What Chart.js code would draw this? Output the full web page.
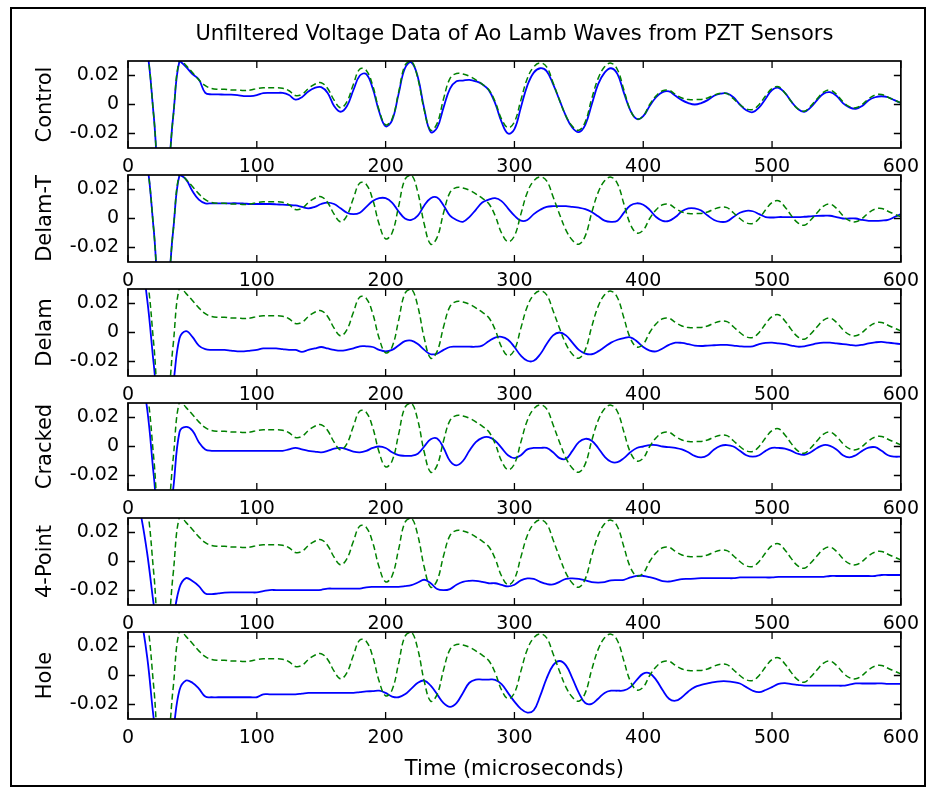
<!DOCTYPE html>
<html>
<head>
<meta charset="utf-8">
<title>Unfiltered Voltage Data of Ao Lamb Waves from PZT Sensors</title>
<script src="https://cdn.jsdelivr.net/npm/chart.js@4.4.1/dist/chart.umd.min.js"></script>
<style>
  html, body { margin: 0; padding: 0; background: #fff; }
  body { width: 927px; height: 788px; position: relative; overflow: hidden; }
  #frame { position: absolute; left: 10px; top: 7px; width: 916px; height: 780px; box-sizing: border-box; border: 2px solid #000; }
  canvas { position: absolute; left: 0; }
</style>
</head>
<body>
<div id="frame"></div>
<script>
// time axis (microseconds), sampled every 5 us
const timeUs = [
  0, 5, 10, 15, 20, 25, 30, 35, 40, 45,
  50, 55, 60, 65, 70, 75, 80, 85, 90, 95,
  100, 105, 110, 115, 120, 125, 130, 135, 140, 145,
  150, 155, 160, 165, 170, 175, 180, 185, 190, 195,
  200, 205, 210, 215, 220, 225, 230, 235, 240, 245,
  250, 255, 260, 265, 270, 275, 280, 285, 290, 295,
  300, 305, 310, 315, 320, 325, 330, 335, 340, 345,
  350, 355, 360, 365, 370, 375, 380, 385, 390, 395,
  400, 405, 410, 415, 420, 425, 430, 435, 440, 445,
  450, 455, 460, 465, 470, 475, 480, 485, 490, 495,
  500, 505, 510, 515, 520, 525, 530, 535, 540, 545,
  550, 555, 560, 565, 570, 575, 580, 585, 590, 595,
  600
];

const sensorNames = ['Control', 'Delam-T', 'Delam', 'Cracked', '4-Point', 'Hole'];

const xTickValues = [0, 100, 200, 300, 400, 500, 600];
const xTickLabels = ['0', '100', '200', '300', '400', '500', '600'];
const yTickValues = [-0.02, 0, 0.02];
const yTickLabels = ['-0.02', '0', '0.02'];

// green dashed reference trace (same in every panel)
const referenceVolts = [
  0.06, 0.06, 0.055, 0.037, -0.008, -0.055, -0.05, -0.009, 0.031, 0.027,
  0.022, 0.017, 0.013, 0.011, 0.0105, 0.0105, 0.010, 0.010, 0.0097, 0.010,
  0.011, 0.0115, 0.0115, 0.0115, 0.0112, 0.0095, 0.0062, 0.007, 0.011, 0.014,
  0.015, 0.011, 0.003, -0.0023, 0.002, 0.014, 0.0245, 0.0235, 0.013, -0.004,
  -0.014, -0.010, 0.008, 0.027, 0.030, 0.018, -0.004, -0.0177, -0.013, 0.004,
  0.018, 0.0214, 0.021, 0.0195, 0.017, 0.014, 0.0103, 0.002, -0.010, -0.016,
  -0.012, 0.003, 0.018, 0.026, 0.0287, 0.026, 0.015, 0.003, -0.008, -0.015,
  -0.0177, -0.012, 0.004, 0.018, 0.026, 0.0285, 0.024, 0.010, -0.004, -0.0099,
  -0.008, 0.0, 0.006, 0.0095, 0.0098, 0.007, 0.0045, 0.0034, 0.0034, 0.0035,
  0.0045, 0.0065, 0.0078, 0.0075, 0.004, 0.0, -0.003, -0.0034, 0.0, 0.006,
  0.011, 0.0122, 0.008, 0.002, -0.003, -0.0046, -0.001, 0.004, 0.0085, 0.0099,
  0.007, 0.002, -0.0015, -0.0023, 0.0, 0.004, 0.0065, 0.0069, 0.005, 0.003,
  0.0011
];

const controlVolts = [
  0.06, 0.06, 0.055, 0.037, -0.008, -0.055, -0.05, -0.009, 0.030, 0.026,
  0.021, 0.0172, 0.008, 0.007, 0.007, 0.0068, 0.0068, 0.0065, 0.0058, 0.0058,
  0.0065, 0.0078, 0.008, 0.008, 0.008, 0.0065, 0.0034, 0.005, 0.009, 0.0115,
  0.012, 0.008, -0.001, -0.005, -0.001, 0.010, 0.020, 0.021, 0.011, -0.005,
  -0.015, -0.011, 0.007, 0.025, 0.029, 0.019, -0.003, -0.019, -0.016, -0.002,
  0.011, 0.016, 0.0165, 0.017, 0.016, 0.014, 0.010, 0.001, -0.012, -0.020,
  -0.017, -0.002, 0.013, 0.022, 0.025, 0.023, 0.014, 0.003, -0.008, -0.016,
  -0.019, -0.014, 0.0, 0.014, 0.022, 0.025, 0.021, 0.008, -0.004, -0.010,
  -0.008, -0.001, 0.005, 0.0085, 0.009, 0.006, 0.003, 0.001, 0.0, 0.001,
  0.003, 0.006, 0.0075, 0.0076, 0.005, 0.0, -0.004, -0.0053, -0.002, 0.004,
  0.010, 0.0115, 0.008, 0.002, -0.003, -0.005, -0.002, 0.003, 0.0075, 0.0085,
  0.006, 0.001, -0.002, -0.003, -0.001, 0.003, 0.005, 0.0057, 0.005, 0.003,
  0.001
];

const delamTVolts = [
  0.06, 0.06, 0.055, 0.037, -0.008, -0.055, -0.05, -0.009, 0.030, 0.027,
  0.019, 0.013, 0.0105, 0.0105, 0.0105, 0.0105, 0.0105, 0.0105, 0.0103, 0.010,
  0.010, 0.010, 0.010, 0.0098, 0.0095, 0.0093, 0.009, 0.008, 0.007, 0.008,
  0.010, 0.011, 0.010, 0.007, 0.004, 0.003, 0.004, 0.008, 0.012, 0.014,
  0.014, 0.011, 0.005, 0.0, -0.001, 0.002, 0.009, 0.014, 0.0145, 0.009,
  0.002, -0.001, -0.0023, 0.001, 0.006, 0.011, 0.013, 0.014, 0.012, 0.007,
  0.002, -0.0015, -0.001, 0.003, 0.006, 0.008, 0.0085, 0.0085, 0.0085, 0.008,
  0.0075, 0.0065, 0.0045, 0.0015, -0.0015, -0.0023, -0.0015, 0.004, 0.009, 0.0105,
  0.0095, 0.006, 0.001, -0.0016, -0.0016, 0.001, 0.005, 0.007, 0.007, 0.0055,
  0.002, -0.001, -0.0023, -0.002, 0.001, 0.004, 0.0053, 0.005, 0.003, 0.001,
  0.0007, 0.001, 0.001, 0.001, 0.001, 0.0012, 0.0015, 0.0018, 0.0019, 0.0019,
  0.001, 0.0, 0.0, 0.0, -0.001, -0.0016, -0.0016, -0.0014, -0.001, 0.001,
  0.003
];

const delamVolts = [
  0.06, 0.06, 0.05, 0.022, -0.022, -0.06, -0.06, -0.036, -0.004, 0.001,
  -0.003, -0.009, -0.0115, -0.012, -0.012, -0.012, -0.0125, -0.013, -0.013, -0.0125,
  -0.012, -0.011, -0.011, -0.011, -0.0115, -0.012, -0.012, -0.0133, -0.012, -0.011,
  -0.010, -0.011, -0.012, -0.0125, -0.012, -0.011, -0.0095, -0.0095, -0.010, -0.012,
  -0.013, -0.012, -0.009, -0.006, -0.0056, -0.008, -0.012, -0.015, -0.0145, -0.012,
  -0.010, -0.0098, -0.0098, -0.0098, -0.0098, -0.009, -0.006, -0.0035, -0.003, -0.005,
  -0.010, -0.016, -0.0195, -0.0195, -0.015, -0.008, -0.002, 0.0, -0.002, -0.007,
  -0.012, -0.0145, -0.015, -0.013, -0.010, -0.007, -0.005, -0.0038, -0.0033, -0.006,
  -0.010, -0.0125, -0.013, -0.011, -0.0085, -0.007, -0.0072, -0.008, -0.009, -0.0093,
  -0.009, -0.0088, -0.0086, -0.0086, -0.009, -0.0095, -0.0098, -0.0095, -0.008, -0.0072,
  -0.007, -0.0075, -0.008, -0.009, -0.0098, -0.0095, -0.0085, -0.0075, -0.007, -0.007,
  -0.0075, -0.008, -0.0085, -0.009, -0.0085, -0.0075, -0.0068, -0.0065, -0.007, -0.0075,
  -0.008
];

const crackedVolts = [
  0.06, 0.06, 0.05, 0.025, -0.02, -0.06, -0.06, -0.03, 0.010, 0.0135,
  0.011, 0.003, -0.002, -0.003, -0.003, -0.003, -0.003, -0.003, -0.003, -0.003,
  -0.003, -0.003, -0.003, -0.003, -0.003, -0.002, -0.001, -0.002, -0.003, -0.0035,
  -0.004, -0.003, -0.0015, -0.001, -0.002, -0.0035, -0.004, -0.003, -0.001, 0.0,
  -0.001, -0.004, -0.006, -0.0064, -0.0064, -0.005, 0.0, 0.005, 0.0055, -0.001,
  -0.010, -0.013, -0.010, -0.003, 0.003, 0.006, 0.0064, 0.004, -0.001, -0.006,
  -0.008, -0.006, -0.002, -0.001, -0.001, -0.001, -0.004, -0.008, -0.0085, -0.003,
  0.003, 0.0053, 0.004, -0.001, -0.007, -0.0105, -0.0108, -0.008, -0.004, -0.001,
  0.0, 0.001, 0.001, 0.0, -0.0005, -0.001, -0.002, -0.004, -0.0065, -0.0075,
  -0.006, -0.002, 0.0005, 0.001, 0.0, -0.003, -0.006, -0.007, -0.006, -0.003,
  -0.001, -0.001, -0.0015, -0.003, -0.005, -0.0057, -0.004, -0.001, 0.001, 0.0005,
  -0.002, -0.006, -0.0075, -0.006, -0.003, -0.0008, -0.0005, -0.003, -0.006, -0.007,
  -0.007
];

const fourPointVolts = [
  0.06, 0.05, 0.032, 0.005, -0.03, -0.06, -0.06, -0.04, -0.018, -0.0115,
  -0.0135, -0.017, -0.022, -0.0225, -0.022, -0.0215, -0.0213, -0.0213, -0.0213, -0.0213,
  -0.0213, -0.0205, -0.0197, -0.0197, -0.0197, -0.0197, -0.0197, -0.0197, -0.0197, -0.0197,
  -0.0195, -0.0187, -0.0187, -0.0187, -0.0187, -0.0187, -0.0187, -0.0178, -0.0175, -0.0175,
  -0.0175, -0.0175, -0.0175, -0.017, -0.0163, -0.0145, -0.0126, -0.015, -0.019, -0.0198,
  -0.019, -0.016, -0.014, -0.0133, -0.0133, -0.014, -0.015, -0.015, -0.0162, -0.0172,
  -0.016, -0.013, -0.0117, -0.012, -0.014, -0.0155, -0.0158, -0.014, -0.012, -0.0117,
  -0.012, -0.013, -0.0142, -0.0145, -0.0142, -0.013, -0.0128, -0.0126, -0.011, -0.0099,
  -0.010, -0.0108, -0.012, -0.0135, -0.0138, -0.013, -0.0122, -0.012, -0.0118, -0.0115,
  -0.0115, -0.0115, -0.0115, -0.0115, -0.0115, -0.011, -0.011, -0.011, -0.011, -0.011,
  -0.011, -0.0106, -0.0106, -0.0106, -0.0106, -0.0106, -0.0106, -0.0106, -0.0106, -0.010,
  -0.010, -0.010, -0.010, -0.010, -0.010, -0.010, -0.010, -0.0093, -0.0093, -0.0093,
  -0.0093
];

const holeVolts = [
  0.06, 0.055, 0.04, 0.012, -0.03, -0.06, -0.06, -0.038, -0.010, -0.0035,
  -0.005, -0.009, -0.0145, -0.015, -0.015, -0.015, -0.015, -0.015, -0.015, -0.015,
  -0.015, -0.013, -0.013, -0.013, -0.013, -0.013, -0.013, -0.0125, -0.012, -0.012,
  -0.012, -0.012, -0.012, -0.012, -0.012, -0.012, -0.0115, -0.011, -0.0108, -0.0105,
  -0.012, -0.0145, -0.015, -0.013, -0.009, -0.005, -0.0035, -0.007, -0.013, -0.019,
  -0.0216, -0.019, -0.012, -0.005, -0.0028, -0.0028, -0.0028, -0.003, -0.006, -0.012,
  -0.018, -0.023, -0.0256, -0.024, -0.014, -0.002, 0.007, 0.010, 0.007, -0.002,
  -0.012, -0.019, -0.0195, -0.016, -0.012, -0.0105, -0.0105, -0.0103, -0.008, -0.003,
  0.0013, 0.0015, -0.003, -0.010, -0.016, -0.0174, -0.015, -0.011, -0.008, -0.0065,
  -0.0055, -0.0045, -0.004, -0.004, -0.0045, -0.0055, -0.008, -0.0105, -0.0115, -0.010,
  -0.008, -0.0058, -0.0053, -0.006, -0.0065, -0.007, -0.007, -0.007, -0.007, -0.007,
  -0.007, -0.007, -0.0063, -0.0055, -0.0055, -0.0055, -0.0055, -0.0055, -0.0058, -0.0058,
  -0.0058
];

const sensorVolts = [controlVolts, delamTVolts, delamVolts, crackedVolts, fourPointVolts, holeVolts];

// panel geometry (page pixels)
const plotLeft = 128;
const plotRightPad = 25;
const plotTops = [61, 175, 289, 403, 518, 632];
const plotHeight = 87;
const tickLen = 7;

Chart.defaults.font.family = '"DejaVu Sans", Verdana, sans-serif';
Chart.defaults.color = '#000';

// matlab style box with inward ticks on all four sides
const matlabBox = {
  id: 'matlabBox',
  afterDatasetsDraw(chart) {
    const { ctx, chartArea: a, scales: { x, y } } = chart;
    ctx.save();
    ctx.strokeStyle = '#000';
    ctx.lineWidth = 1.3;
    ctx.beginPath();
    x.ticks.forEach(t => {
      const px = x.getPixelForValue(t.value);
      ctx.moveTo(px, a.bottom); ctx.lineTo(px, a.bottom - tickLen);
      ctx.moveTo(px, a.top); ctx.lineTo(px, a.top + tickLen);
    });
    y.ticks.forEach(t => {
      const py = y.getPixelForValue(t.value);
      ctx.moveTo(a.left, py); ctx.lineTo(a.left + tickLen, py);
      ctx.moveTo(a.right, py); ctx.lineTo(a.right - tickLen, py);
    });
    ctx.stroke();
    ctx.lineWidth = 1.7;
    ctx.strokeRect(a.left, a.top, a.right - a.left, a.bottom - a.top);
    ctx.restore();
  }
};

const pts = vals => timeUs.map((t, i) => ({ x: t, y: vals[i] }));

sensorNames.forEach((name, k) => {
  const first = k === 0;
  const last = k === sensorNames.length - 1;
  const padTop = first ? 0 : 24;
  const axisH = last ? 68 : 40;
  const canvasTop = first ? 0 : plotTops[k] - padTop;
  const h = (first ? plotTops[0] : padTop) + plotHeight + axisH;

  const cv = document.createElement('canvas');
  cv.width = 927;
  cv.height = h;
  cv.style.top = canvasTop + 'px';
  document.body.appendChild(cv);

  new Chart(cv, {
    type: 'line',
    data: {
      datasets: [
        {
          label: 'Reference',
          data: pts(referenceVolts),
          borderColor: '#008000',
          borderWidth: 1.5,
          borderDash: [6, 3.5],
          clip: 0
        },
        {
          label: name,
          data: pts(sensorVolts[k]),
          borderColor: '#0000ff',
          borderWidth: 1.8,
          clip: 0
        }
      ]
    },
    options: {
      responsive: false,
      animation: false,
      events: [],
      layout: { padding: { top: padTop, left: 0, right: plotRightPad, bottom: 0 } },
      elements: {
        point: { radius: 0 },
        line: { tension: 0.4, fill: false }
      },
      scales: {
        x: {
          type: 'linear',
          min: 0,
          max: 600,
          afterBuildTicks: s => { s.ticks = xTickValues.map(v => ({ value: v })); },
          afterFit: s => { s.height = axisH; },
          grid: { display: false, drawTicks: false },
          border: { display: false },
          ticks: {
            padding: 8,
            maxRotation: 0,
            autoSkip: false,
            font: { size: 19 },
            callback: (v, i) => xTickLabels[i]
          },
          title: {
            display: last,
            text: 'Time (microseconds)',
            font: { size: 21 },
            padding: { top: 0, bottom: 5 }
          }
        },
        y: {
          type: 'linear',
          min: -0.03,
          max: 0.03,
          afterBuildTicks: s => { s.ticks = yTickValues.map(v => ({ value: v })); },
          afterFit: s => { s.width = plotLeft; },
          grid: { display: false, drawTicks: false },
          border: { display: false },
          ticks: {
            padding: 9,
            autoSkip: false,
            font: { size: 19 },
            callback: (v, i) => yTickLabels[i]
          },
          title: {
            display: true,
            text: name,
            font: { size: 21 },
            padding: { top: 33, bottom: 0 }
          }
        }
      },
      plugins: {
        legend: { display: false },
        tooltip: { enabled: false },
        title: {
          display: first,
          text: 'Unfiltered Voltage Data of Ao Lamb Waves from PZT Sensors',
          fullSize: false,
          font: { size: 21, weight: 'normal' },
          padding: { top: 22.4, bottom: 13.4 }
        }
      }
    },
    plugins: [matlabBox]
  });
});
</script>
</body>
</html>
